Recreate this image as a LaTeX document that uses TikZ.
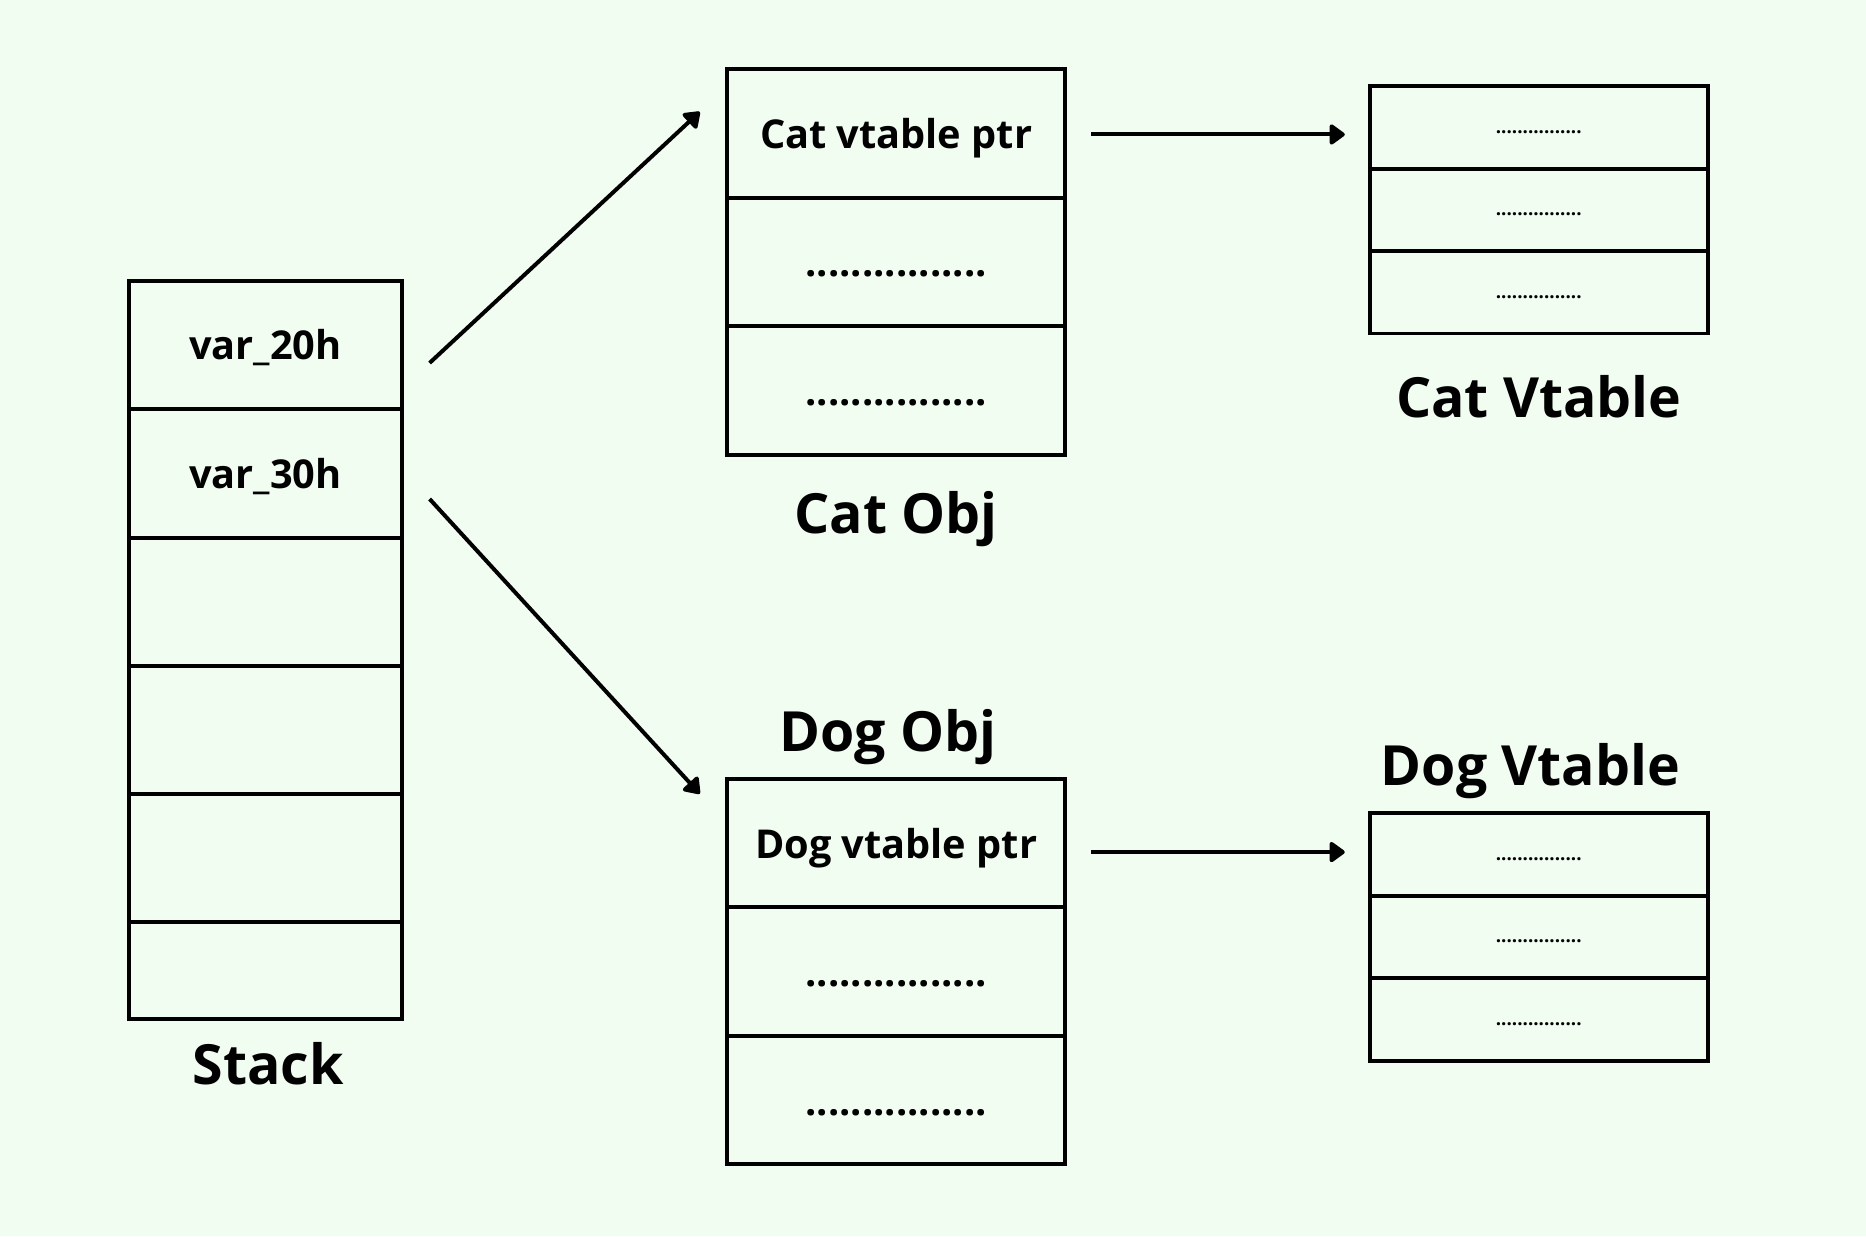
\documentclass[tikz,border=0pt]{standalone}
\usepackage{fontspec}
\setmainfont{Open Sans}
\usepackage{tikz}
\usetikzlibrary{arrows.meta,positioning}
\definecolor{bgGreen}{RGB}{240,253,240}
\newcommand{\dotrow}{................}

\begin{document}
\begin{tikzpicture}[auto, line width=1.9pt]
        \tikzset{
           stackCell/.style={
                        rectangle,
                        draw=black,
                        fill=none,
                        text=black,
                        outer sep=0pt,
                        minimum width=4.6cm,
                        minimum height=2.156cm,
                        node distance=2.156cm,
                        text height=0.5cm,
                        text depth=0pt,
                        font=\fontsize{19}{22}\selectfont\bfseries
                       },
           objCell/.style={
                        rectangle,
                        draw=black,
                        fill=none,
                        text=black,
                        outer sep=0pt,
                        minimum width=5.68cm,
                        minimum height=2.16cm,
                        node distance=2.16cm,
                        text height=0.5cm,
                        text depth=0pt,
                        font=\fontsize{19}{22}\selectfont\bfseries
                       },
           vtCell/.style={
                        rectangle,
                        draw=black,
                        fill=none,
                        text=black,
                        outer sep=0pt,
                        minimum width=5.68cm,
                        minimum height=1.386cm,
                        node distance=1.386cm,
                        text height=0.2cm,
                        text depth=0pt,
                        font=\fontsize{9}{10}\selectfont\bfseries
                       },
           boxTitle/.style={
                        inner sep=0pt,
                        outer sep=0pt,
                        text height=0.66cm,
                        text depth=0pt,
                        text=black,
                        font=\fontsize{26.5}{30}\selectfont\bfseries
                       },
           pointer/.style={
                        draw=black,
                        line width=1.9pt,
                        -{Triangle[length=8pt,width=11pt,round]}
                       },
                 };
    %--------------------
        \fill[bgGreen] (0,0) rectangle (31.36,20.78);
    %--------------------
        \node[stackCell] (s1) at (4.46,14.98) {var\_20h};
        \node[stackCell] (s2) [below of=s1]  {var\_30h};
        \node[stackCell] (s3) [below of=s2]  {};
        \node[stackCell] (s4) [below of=s3]  {};
        \node[stackCell] (s5) [below of=s4]  {};
        \node[stackCell, minimum height=1.62cm, anchor=north] (s6) at (s5.south) {};

        \node[objCell]   (c1) at (15.06,18.54) {Cat vtable ptr};
        \node[objCell]   (c2) [below of=c1]  {\dotrow};
        \node[objCell]   (c3) [below of=c2]  {\dotrow};

        \node[objCell]   (d1) at (15.06,6.61) {Dog vtable ptr};
        \node[objCell]   (d2) [below of=d1]  {\dotrow};
        \node[objCell]   (d3) [below of=d2]  {\dotrow};

        \node[vtCell]    (cv1) at (25.86,18.64) {\dotrow};
        \node[vtCell]    (cv2) [below of=cv1] {\dotrow};
        \node[vtCell]    (cv3) [below of=cv2] {\dotrow};

        \node[vtCell]    (dv1) at (25.86,6.42) {\dotrow};
        \node[vtCell]    (dv2) [below of=dv1] {\dotrow};
        \node[vtCell]    (dv3) [below of=dv2] {\dotrow};
    %--------------------
        \node[boxTitle]  (stackLbl)  [below=0.44cm of s6, xshift=0.05cm]  {Stack};
        \node[boxTitle]  (catObjLbl) [below=0.66cm of c3]  {Cat Obj};
        \node[boxTitle]  (catVtLbl)  [below=0.76cm of cv3] {Cat Vtable};
        \node[boxTitle]  (dogObjLbl) [above=0.46cm of d1, xshift=-0.14cm]  {Dog Obj};
        \node[boxTitle]  (dogVtLbl)  [above=0.46cm of dv1, xshift=-0.14cm] {Dog Vtable};
    %--------------------
        \coordinate (catPtr) at ([yshift=-0.02cm]c1.east);
        \coordinate (dogPtr) at ([yshift=-0.15cm]d1.east);

        \draw[pointer] ([shift={(0.46,-0.3)}]s1.east)  -- ([shift={(-0.46,0.36)}]c1.west);
        \draw[pointer] ([shift={(0.46,-0.43)}]s2.east) -- ([shift={(-0.46,0.83)}]d1.west);

        \draw[pointer, shorten <=0.44cm, shorten >=0.42cm] (catPtr) -- (catPtr -| cv1.west);
        \draw[pointer, shorten <=0.44cm, shorten >=0.42cm] (dogPtr) -- (dogPtr -| dv1.west);
    \end{tikzpicture}
\end{document}
